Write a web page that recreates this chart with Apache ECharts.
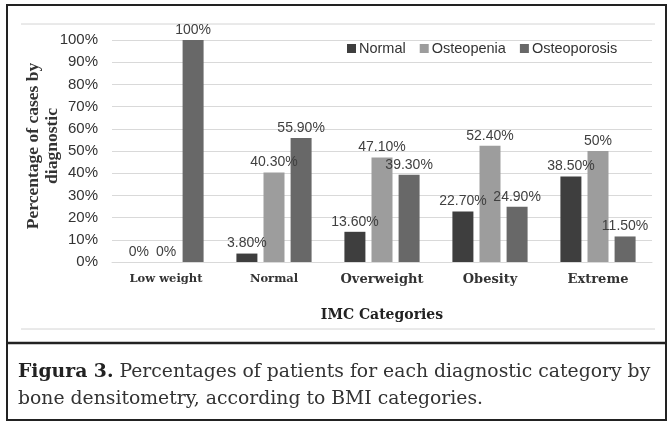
<!DOCTYPE html>
<html>
<head>
<meta charset="utf-8">
<script src="https://cdn.jsdelivr.net/npm/echarts@6/dist/echarts.min.js"></script>
<style>
  html, body { margin: 0; padding: 0; background: #fff; }
  #chart { width: 671px; height: 422px; }
</style>
</head>
<body>
<div id="chart"></div>
<script>
// data
var categories = ['Low weight', 'Normal', 'Overweight', 'Obesity', 'Extreme'];
var seriesNames = ['Normal', 'Osteopenia', 'Osteoporosis'];
var normalVals = [0, 3.8, 13.6, 22.7, 38.5];
var osteopeniaVals = [0, 40.3, 47.1, 52.4, 50];
var osteoporosisVals = [100, 55.9, 39.3, 24.9, 11.5];
var valueLabels = [
  ['0%', '3.80%', '13.60%', '22.70%', '38.50%'],
  ['0%', '40.30%', '47.10%', '52.40%', '50%'],
  ['100%', '55.90%', '39.30%', '24.90%', '11.50%']
];
var colors = ['#3e3e3e', '#9d9d9d', '#686868'];

var serif = 'DejaVu Serif';
var sans = 'Liberation Sans';

function makeSeries (idx, vals) {
  return {
    name: seriesNames[idx],
    type: 'bar',
    data: vals,
    barWidth: 21,
    barGap: '29%',
    itemStyle: { color: colors[idx] },
    label: {
      show: true,
      position: 'top',
      distance: 3,
      fontFamily: sans,
      fontSize: 14,
      color: '#404040',
      formatter: function (p) { return valueLabels[idx][p.dataIndex]; }
    }
  };
}

var chart = echarts.init(document.getElementById('chart'), null, { renderer: 'canvas' });
chart.setOption({
  animation: false,
  backgroundColor: '#fff',
  grid: { left: 112, right: 19, top: 40, bottom: 160 },
  legend: {
    left: 342,
    top: 36,
    itemWidth: 9,
    itemHeight: 9,
    itemGap: 14,
    icon: 'rect',
    textStyle: { fontFamily: sans, fontSize: 14.5, color: '#333', padding: [0, 0, 0, -2] },
    data: seriesNames
  },
  xAxis: {
    type: 'category',
    data: categories,
    name: 'IMC Categories',
    nameLocation: 'middle',
    nameGap: 46,
    nameTextStyle: { fontFamily: serif, fontWeight: 'bold', fontSize: 14, color: '#222' },
    axisLine: { lineStyle: { color: '#d9d9d9' } },
    axisTick: { show: false },
    axisLabel: {
      margin: 11,
      formatter: function (v, i) { return i < 2 ? '{s|' + v + '}' : '{b|' + v + '}'; },
      rich: {
        s: { fontFamily: serif, fontWeight: 'bold', fontSize: 11.5, color: '#333' },
        b: { fontFamily: serif, fontWeight: 'bold', fontSize: 13, color: '#333' }
      }
    }
  },
  yAxis: {
    type: 'value',
    min: 0,
    max: 100,
    interval: 10,
    name: 'Percentage of cases by\ndiagnostic',
    nameLocation: 'middle',
    nameGap: 50,
    nameMoveOverlap: false,
    nameTextStyle: {
      fontFamily: 'Liberation Serif', fontWeight: 'bold', fontSize: 17.5, color: '#333',
      lineHeight: 19, padding: [0, 0, 0, 10]
    },
    axisLine: { show: false },
    axisTick: { show: false },
    axisLabel: { margin: 14, fontFamily: sans, fontSize: 15, color: '#333', formatter: '{value}%' },
    splitLine: { lineStyle: { color: '#d9d9d9' } }
  },
  series: [
    makeSeries(0, normalVals),
    makeSeries(1, osteopeniaVals),
    makeSeries(2, osteoporosisVals)
  ],
  graphic: [
    { type: 'rect', shape: { x: 7, y: 5, width: 659, height: 415 }, style: { fill: null, stroke: '#222', lineWidth: 2 } },
    { type: 'line', shape: { x1: 21, y1: 24, x2: 655, y2: 24 }, style: { stroke: '#d4d4d4', lineWidth: 1 } },
    { type: 'line', shape: { x1: 21, y1: 329, x2: 655, y2: 329 }, style: { stroke: '#d4d4d4', lineWidth: 1 } },
    { type: 'line', shape: { x1: 7, y1: 343, x2: 666, y2: 343 }, style: { stroke: '#222', lineWidth: 2.5 } },
    {
      type: 'text', left: 18, top: 359,
      style: {
        text: '{b|Figura 3.} Percentages of patients for each diagnostic category by\nbone densitometry, according to BMI categories.',
        fontFamily: serif, fontSize: 18.8, fill: '#333', lineHeight: 27,
        rich: { b: { fontFamily: serif, fontWeight: 'bold', fontSize: 18.8, fill: '#222' } }
      }
    }
  ]
});
</script>
</body>
</html>
